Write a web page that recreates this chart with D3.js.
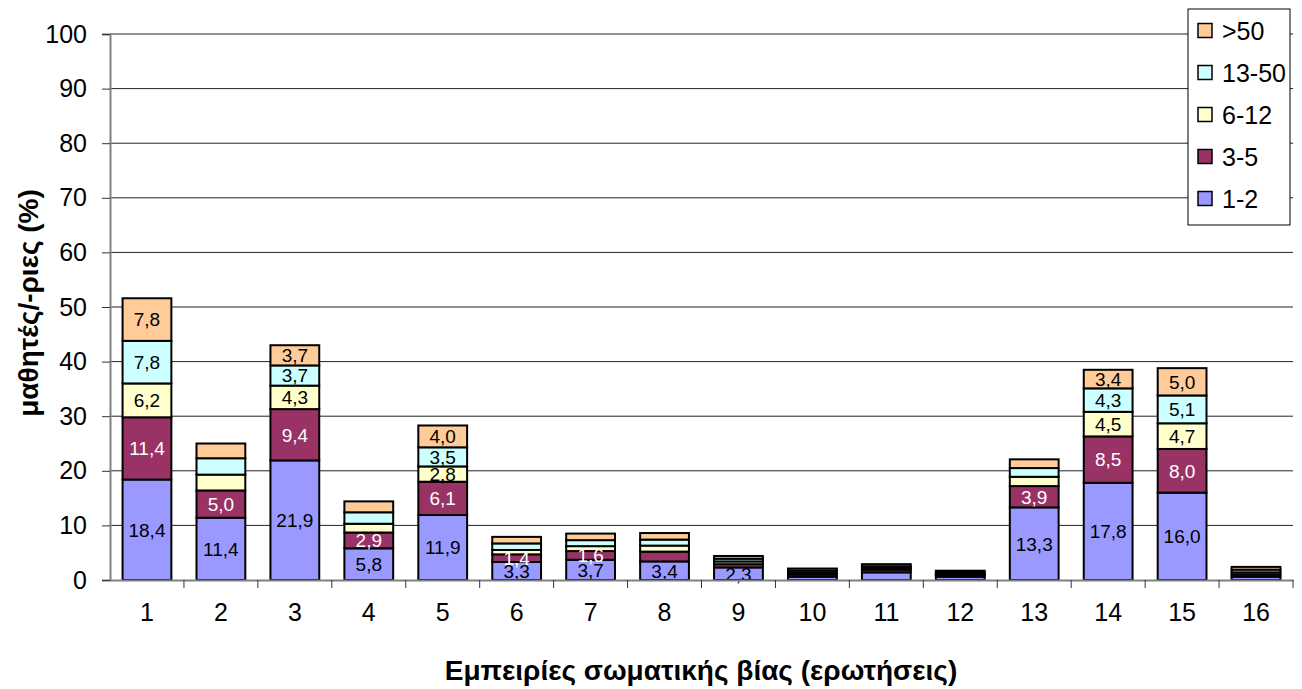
<!DOCTYPE html>
<html><head><meta charset="utf-8">
<script src="https://cdn.jsdelivr.net/npm/d3@7/dist/d3.min.js"></script>
<style>body{margin:0;background:#fff}svg{display:block;font-family:"Liberation Sans",Arial,sans-serif}</style>
</head><body><svg id="c" width="1302" height="689"></svg>
<script>
const categories = ["1","2","3","4","5","6","7","8","9","10","11","12","13","14","15","16"];
const seriesNames = ["1-2","3-5","6-12","13-50",">50"];
const s12   = [18.4,11.4,21.9,5.8,11.9,3.3,3.7,3.4,2.3,0.6,1.4,0.6,13.3,17.8,16.0,0.6];
const s35   = [11.4,5.0,9.4,2.9,6.1,1.4,1.6,1.8,0.6,0.4,0.5,0.3,3.9,8.5,8.0,0.4];
const s612  = [6.2,2.9,4.3,1.6,2.8,0.8,0.9,1.1,0.5,0.3,0.3,0.2,1.7,4.5,4.7,0.4];
const s1350 = [7.8,3.0,3.7,2.1,3.5,1.2,1.1,1.1,0.5,0.4,0.3,0.3,1.6,4.3,5.1,0.5];
const s50   = [7.8,2.7,3.7,2.0,4.0,1.2,1.2,1.2,0.5,0.4,0.4,0.3,1.6,3.4,5.0,0.5];
// which segment values are printed on the chart
const show12   = [1,1,1,1,1,1,1,1,1,0,0,0,1,1,1,0];
const show35   = [1,1,1,1,1,1,1,0,0,0,0,0,1,1,1,0];
const show612  = [1,0,1,0,1,0,0,0,0,0,0,0,0,1,1,0];
const show1350 = [1,0,1,0,1,0,0,0,0,0,0,0,0,1,1,0];
const show50   = [1,0,1,0,1,0,0,0,0,0,0,0,0,1,1,0];
const yTicks = [0,10,20,30,40,50,60,70,80,90,100];
const colors = ["#9999FF","#993366","#FFFFCC","#CCFFFF","#FFCC99"];
const textColors = ["#000","#fff","#000","#000","#000"];

const seriesVals = [s12,s35,s612,s1350,s50];
const seriesShow = [show12,show35,show612,show1350,show50];
const rows = categories.map((c,i)=>{const o={cat:c};seriesNames.forEach((n,k)=>o[n]=seriesVals[k][i]);return o;});
const stack = d3.stack().keys(seriesNames)(rows);

const svg = d3.select("#c");
const L=110,R=1293,T=34,B=580;
const x = d3.scaleBand().domain(categories).range([L,R]).paddingInner(0.34).paddingOuter(0.17);
const xb = d3.scaleBand().domain(categories).range([L,R]);
const y = d3.scaleLinear().domain([0,100]).range([B,T]);

// gridlines
svg.append("g").selectAll("line").data(yTicks.filter(t=>t>0)).join("line")
  .attr("x1",L).attr("x2",R).attr("y1",d=>y(d)).attr("y2",d=>y(d))
  .attr("stroke","#222").attr("stroke-width",1);

// bars
const g = svg.append("g");
stack.forEach((layer,k)=>{
  g.append("g").selectAll("rect").data(layer).join("rect")
    .attr("x",d=>x(d.data.cat)).attr("width",x.bandwidth())
    .attr("y",d=>y(d[1])).attr("height",d=>y(d[0])-y(d[1]))
    .attr("fill",colors[k]).attr("stroke","#000").attr("stroke-width",2);
});
// labels
const fmt = v=>v.toFixed(1).replace(".",",");
stack.forEach((layer,k)=>{
  g.append("g").selectAll("text").data(layer.filter((d,i)=>seriesShow[k][i])).join("text")
    .attr("x",d=>x(d.data.cat)+x.bandwidth()/2)
    .attr("y",d=>(y(d[0])+y(d[1]))/2)
    .attr("dy","0.36em").attr("text-anchor","middle")
    .attr("font-size",19).attr("fill",textColors[k])
    .text(d=>fmt(d[1]-d[0]));
});

// y axis
const ya = svg.append("g").attr("transform",`translate(${L},0)`)
  .call(d3.axisLeft(y).tickValues(yTicks).tickSize(8).tickPadding(15));
ya.select(".domain").attr("stroke","#808080").attr("stroke-width",2);
ya.selectAll(".tick line").attr("stroke","#333");
ya.selectAll("text").attr("font-size",25).attr("fill","#000").attr("font-family","Liberation Sans, Arial, sans-serif");

// x axis
const xa = svg.append("g").attr("transform",`translate(0,${B})`)
  .call(d3.axisBottom(xb).tickSize(0).tickPadding(23));
xa.select(".domain").attr("stroke","#808080").attr("stroke-width",2);
xa.selectAll("text").attr("font-size",25).attr("fill","#000").attr("font-family","Liberation Sans, Arial, sans-serif");
svg.append("g").selectAll("line").data(categories.slice(1).concat(["__end"])).join("line")
  .attr("x1",d=>d==="__end"?R:xb(d)).attr("x2",d=>d==="__end"?R:xb(d))
  .attr("y1",B).attr("y2",B+8).attr("stroke","#333");

// titles
svg.append("text").attr("x",701).attr("y",680).attr("text-anchor","middle")
  .attr("font-size",28).attr("font-weight","bold").text("Εμπειρίες σωματικής βίας (ερωτήσεις)");
svg.append("text").attr("transform","translate(38,303) rotate(-90)").attr("text-anchor","middle")
  .attr("font-size",28).attr("font-weight","bold").text("μαθητές/-ριες (%)");

// legend
const lg = svg.append("g");
lg.append("rect").attr("x",1188).attr("y",9).attr("width",102).attr("height",216)
  .attr("fill","#fff").attr("stroke","#000").attr("stroke-width",1);
const legOrder = [4,3,2,1,0];
legOrder.forEach((k,i)=>{
  const cy = 30.5 + i*42;
  lg.append("rect").attr("x",1198).attr("y",cy-7).attr("width",14).attr("height",14)
    .attr("fill",colors[k]).attr("stroke","#000").attr("stroke-width",1.5);
  lg.append("text").attr("x",1222).attr("y",cy).attr("dy","0.36em")
    .attr("font-size",25).text(seriesNames[k]);
});
</script></body></html>
